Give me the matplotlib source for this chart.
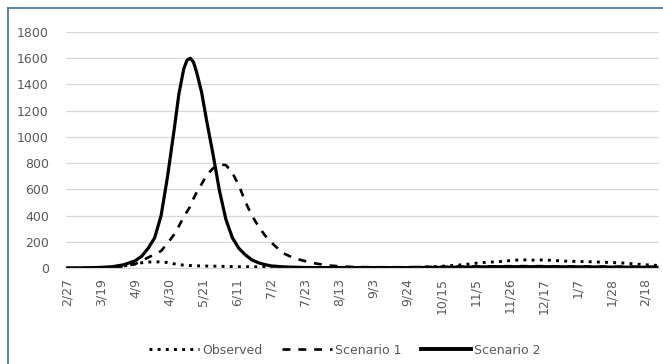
import matplotlib
matplotlib.use('Agg')
import matplotlib.pyplot as plt
import pandas as pd
from matplotlib.lines import Line2D

# daily series sampled every few days around the spring peak, weekly elsewhere
dates = [
    '2020-02-27', '2020-03-05', '2020-03-12', '2020-03-19', '2020-03-26', '2020-04-02', '2020-04-09',
    '2020-04-13', '2020-04-17', '2020-04-21', '2020-04-25', '2020-04-29', '2020-05-03', '2020-05-06',
    '2020-05-09', '2020-05-11', '2020-05-13', '2020-05-15', '2020-05-17', '2020-05-20', '2020-05-23',
    '2020-05-27', '2020-05-31', '2020-06-04', '2020-06-08', '2020-06-12', '2020-06-16', '2020-06-20',
    '2020-06-24', '2020-06-28', '2020-07-02',
    '2020-07-09', '2020-07-16', '2020-07-23', '2020-07-30', '2020-08-06', '2020-08-13',
    '2020-08-20', '2020-08-27', '2020-09-03', '2020-09-10', '2020-09-17', '2020-09-24', '2020-10-01',
    '2020-10-08', '2020-10-15', '2020-10-22', '2020-10-29', '2020-11-05', '2020-11-12', '2020-11-19',
    '2020-11-26', '2020-12-03', '2020-12-10', '2020-12-17', '2020-12-24', '2020-12-31', '2021-01-07',
    '2021-01-14', '2021-01-21', '2021-01-28', '2021-02-04', '2021-02-11', '2021-02-18', '2021-02-25',
]

observed = [
    0, 0, 1, 3, 6, 15, 32,
    40, 45, 48, 46, 42, 32, 26, 22, 20, 19, 18, 17, 16, 15, 14, 13, 12, 11, 10, 10, 9, 9, 8, 7,
    5, 4, 3, 3, 2, 2, 2, 2, 2, 3, 3, 4, 6, 9, 13, 19, 26, 36, 44, 48, 56, 63, 60, 62, 57,
    52, 50, 48, 45, 42, 38, 31, 25, 20,
]

scenario1 = [
    0, 0, 1, 2, 5, 12, 30,
    55, 80, 105, 130, 190, 255, 320, 390, 430, 470, 530, 580, 640, 705, 760, 790, 785, 725,
    630, 505, 400, 320, 250, 195,
    115, 75, 52, 33, 20, 13, 9, 7, 6, 6, 6, 6, 7, 8, 9, 10, 11, 12, 13, 13, 14, 14, 14, 14,
    13, 13, 12, 12, 11, 11, 10, 10, 9, 9,
]

scenario2 = [
    0, 1, 2, 5, 10, 25, 55,
    90, 150, 230, 400, 700, 1050, 1330, 1520, 1585, 1600, 1570, 1490, 1340, 1130, 870, 590,
    370, 230, 150, 100, 62, 40, 26, 16,
    9, 6, 4, 3, 3, 3, 3, 3, 3, 3, 3, 3, 4, 4, 5, 6, 7, 8, 9, 10, 10, 10, 10, 10, 10, 9, 9,
    8, 8, 7, 7, 6, 6, 5,
]

tick_labels = ['2/27', '3/19', '4/9', '4/30', '5/21', '6/11', '7/2', '7/23', '8/13', '9/3',
               '9/24', '10/15', '11/5', '11/26', '12/17', '1/7', '1/28', '2/18']

x = pd.to_datetime(dates)
ticks = pd.date_range(x[0], periods=len(tick_labels), freq='21D')

plt.rcParams['font.family'] = ['DejaVu Sans']
grey = '#595959'
dots = (0, (1, 1.8))
dashes = (0, (3, 3))

fig = plt.figure(figsize=(6.63, 3.64), dpi=100)
ax = fig.add_axes([0.0988, 0.2637, 0.8945, 0.6484])

ax.plot(x, observed, color='black', lw=2.1, linestyle=dots, label='Observed')
ax.plot(x, scenario1, color='black', lw=1.9, linestyle=dashes, label='Scenario 1')
ax.plot(x, scenario2, color='black', lw=2.3, solid_joinstyle='round', label='Scenario 2')

ax.set_ylim(0, 1800)
ax.set_yticks(range(0, 1801, 200))
ax.set_xlim(x[0] - pd.Timedelta(days=1), x[-1] + pd.Timedelta(days=1))
ax.set_xticks(ticks)
ax.set_xticklabels(tick_labels, rotation=90)

ax.grid(axis='y', color='#d9d9d9', lw=0.9)
ax.set_axisbelow(True)
for s in ['top', 'right', 'left']:
    ax.spines[s].set_visible(False)
ax.spines['bottom'].set_color('#d9d9d9')
ax.tick_params(axis='both', length=0, labelsize=9, colors=grey)
ax.tick_params(axis='y', pad=12)
ax.tick_params(axis='x', pad=7)

handles = [
    Line2D([], [], color='black', lw=2.1, linestyle=dots),
    Line2D([], [], color='black', lw=1.9, linestyle=dashes),
    Line2D([], [], color='black', lw=2.8),
]
leg = fig.legend(handles, ['Observed', 'Scenario 1', 'Scenario 2'], loc='center',
                 bbox_to_anchor=(0.52, 0.038), ncol=3, frameon=False, fontsize=9,
                 handlelength=4.0, handletextpad=0.2, columnspacing=1.6)
for t in leg.get_texts():
    t.set_color(grey)

# frame around the chart area
fig.add_artist(Line2D([7.5 / 663, 7.5 / 663], [0, 1 - 7.5 / 364], color='#3f6fa0', lw=1.2))
fig.add_artist(Line2D([7.5 / 663, 1], [1 - 7.5 / 364, 1 - 7.5 / 364], color='#3f6fa0', lw=1.2))

fig.savefig('out.png', dpi=100)
